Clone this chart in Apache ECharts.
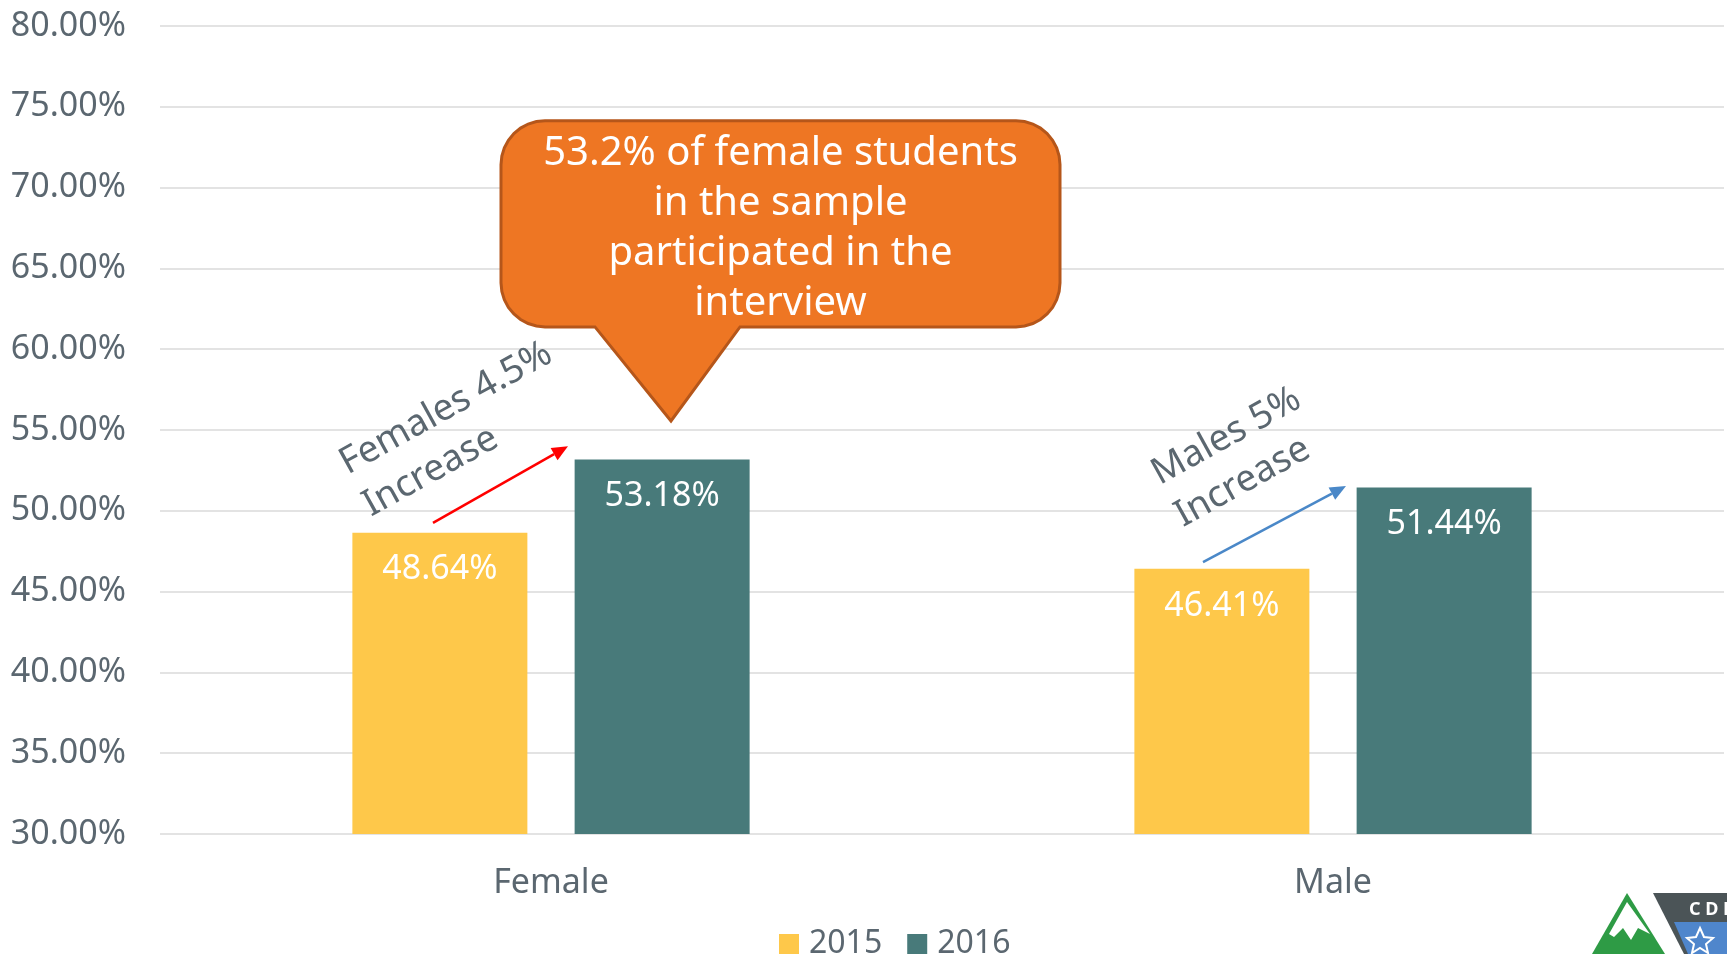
<!DOCTYPE html>
<html>
<head>
<meta charset="utf-8">
<script src="https://cdn.jsdelivr.net/npm/echarts@6/dist/echarts.min.js"></script>
<style>
  html, body { margin: 0; padding: 0; background: #fff; }
  #chart { width: 1727px; height: 954px; }
</style>
</head>
<body>
<div id="chart"></div>
<script>
const categories = ['Female', 'Male'];
const years = ['2015', '2016'];
const values2015 = [48.64, 46.41];
const values2016 = [53.18, 51.44];
const yMin = 30, yMax = 80, yStep = 5;

const FONT = "'Noto Sans', 'Open Sans', sans-serif";
const TEXT = '#5b6770';
const YELLOW = '#fec84a';
const TEAL = '#487a7a';

const chart = echarts.init(document.getElementById('chart'));

const barLabel = {
  show: true,
  position: 'insideTop',
  distance: 20,
  color: '#fff',
  fontFamily: FONT,
  fontSize: 34,
  formatter: p => p.value.toFixed(2) + '%'
};

chart.setOption({
  animation: false,
  backgroundColor: '#fff',
  grid: { left: 160, right: 3, top: 26, bottom: 120 },
  legend: {
    data: years,
    left: 774,
    top: 919,
    icon: 'rect',
    itemWidth: 20,
    itemHeight: 20,
    itemGap: 25,
    textStyle: { color: TEXT, fontFamily: FONT, fontSize: 32, lineHeight: 40, padding: [0, 0, 0, 5] }
  },
  xAxis: {
    type: 'category',
    data: categories,
    axisLine: { show: false },
    axisTick: { show: false },
    axisLabel: { color: TEXT, fontFamily: FONT, fontSize: 34, margin: 32 }
  },
  yAxis: {
    type: 'value',
    min: yMin,
    max: yMax,
    interval: yStep,
    axisLine: { show: false },
    axisTick: { show: false },
    axisLabel: {
      color: TEXT, fontFamily: FONT, fontSize: 34, margin: 34,
      formatter: v => v.toFixed(2) + '%'
    },
    splitLine: { lineStyle: { color: '#e3e3e3', width: 2 } }
  },
  series: [
    {
      name: '2015', type: 'bar', data: values2015,
      barWidth: 175, barGap: '27%',
      itemStyle: { color: YELLOW },
      label: barLabel
    },
    {
      name: '2016', type: 'bar', data: values2016,
      barWidth: 175,
      itemStyle: { color: TEAL },
      label: barLabel
    }
  ]
});

// annotations anchored on the axes
function px(cat, val) { return chart.convertToPixel({ gridIndex: 0 }, [cat, val]); }

function arrow(p0, p1, color) {
  const ang = Math.atan2(p1[1] - p0[1], p1[0] - p0[0]);
  const len = 16, half = 7;
  const bx = p1[0] - len * Math.cos(ang), by = p1[1] - len * Math.sin(ang);
  const nx = -Math.sin(ang), ny = Math.cos(ang);
  return [
    { type: 'line', shape: { x1: p0[0], y1: p0[1], x2: bx, y2: by },
      style: { stroke: color, lineWidth: 2.5 } },
    { type: 'polygon',
      shape: { points: [p1, [bx + nx * half, by + ny * half], [bx - nx * half, by - ny * half]] },
      style: { fill: color } }
  ];
}

function rotatedText(c, text) {
  return {
    type: 'text', x: c[0], y: c[1], rotation: 29 * Math.PI / 180,
    style: {
      text: text, fill: TEXT, font: '37px ' + FONT,
      align: 'left', verticalAlign: 'top', lineHeight: 48
    }
  };
}

// quarter arc points for the rounded callout corners
function corner(cx, cy, r, a0) {
  const pts = [];
  for (let i = 0; i <= 8; i++) {
    const a = (a0 + i * 90 / 8) * Math.PI / 180;
    pts.push([cx + r * Math.cos(a), cy + r * Math.sin(a)]);
  }
  return pts;
}

const fA = px('Female', 49.25), fB = px('Female', 54.0);
const mA = px('Male', 46.82), mB = px('Male', 51.53);
const fT = px('Female', 54.1), mT = px('Male', 53.45);

// callout box
const fx = px('Female', yMin)[0];
const boxTop = px('Female', 74.14)[1], boxBot = px('Female', 61.38)[1];
const tip = px('Female', 55.56);
const x0 = fx - 50, x1 = fx + 509, r = 44;
const b0 = fx + 44, b1 = fx + 189, tx = fx + 120;
const calloutPts = [].concat(
  corner(x0 + r, boxTop + r, r, 180),
  corner(x1 - r, boxTop + r, r, 270),
  corner(x1 - r, boxBot - r, r, 0),
  [[b1, boxBot], [tx, tip[1]], [b0, boxBot]],
  corner(x0 + r, boxBot - r, r, 90)
);

const elements = [].concat(
  arrow([fA[0] - 118, fA[1]], [fB[0] + 17, fB[1]], '#ff0000'),
  arrow([mA[0] - 130, mA[1]], [mB[0] + 13, mB[1]], '#4a88c8'),
  [
    rotatedText([fT[0] - 220, fT[1]], 'Females 4.5%\nIncrease'),
    rotatedText([mT[0] - 190, mT[1]], 'Males 5%\nIncrease'),
    { type: 'polygon', shape: { points: calloutPts },
      style: { fill: '#ee7623', stroke: '#b5561a', lineWidth: 3 } },
    { type: 'text', x: (x0 + x1) / 2, y: (boxTop + boxBot) / 2 + 5,
      style: {
        text: '53.2% of female students\nin the sample\nparticipated in the\ninterview',
        fill: '#fff', font: '40px ' + FONT, align: 'center',
        verticalAlign: 'middle', lineHeight: 50
      } },
    // logo, bottom right
    { type: 'polygon', shape: { points: [[1627, 893], [1592, 954], [1665, 954]] },
      style: { fill: '#2e9b45' } },
    { type: 'polygon',
      shape: { points: [[1627, 902], [1650, 934], [1638, 928], [1631, 940], [1623, 928], [1614, 937], [1609, 934]] },
      style: { fill: '#fff' } },
    { type: 'polygon', shape: { points: [[1653, 893], [1727, 893], [1727, 954], [1684, 954]] },
      style: { fill: '#4b5457' } },
    { type: 'polygon', shape: { points: [[1674, 922], [1727, 922], [1727, 954], [1688, 954]] },
      style: { fill: '#4f86cc' } },
    { type: 'text', x: 1689, y: 910,
      style: { text: 'C D E', fill: '#fff', font: 'bold 18px ' + FONT, verticalAlign: 'middle' } },
    { type: 'polygon',
      shape: { points: [[1700, 928], [1704, 937], [1713, 938], [1706, 944], [1708, 953], [1700, 948], [1692, 953], [1694, 944], [1687, 938], [1696, 937]] },
      style: { fill: 'none', stroke: '#fff', lineWidth: 2 } }
  ]
);

chart.setOption({ graphic: { elements: elements } });
</script>
</body>
</html>
